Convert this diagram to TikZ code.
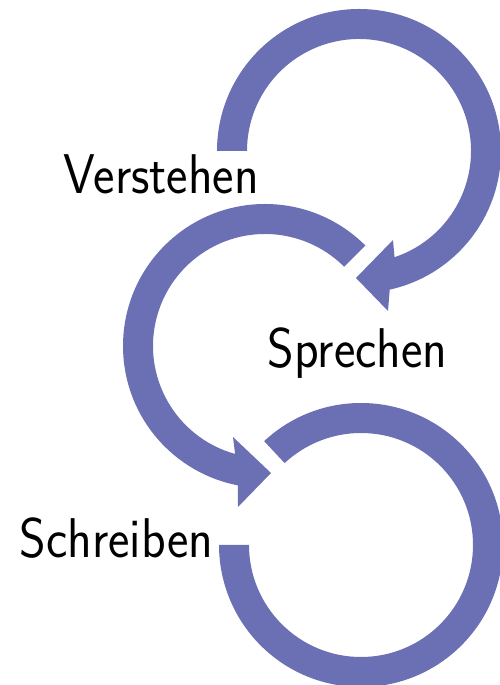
\documentclass[tikz,border=0pt]{standalone}
\usetikzlibrary{calc}
\definecolor{arcblue}{RGB}{107,111,180}
\begin{document}
\begin{tikzpicture}[x=1pt,y=1pt,
  arcband/.style={fill=arcblue,draw=none},
  lbl/.style={font=\sffamily\fontsize{56}{60}\selectfont,inner sep=0pt,anchor=base,xscale=0.91,text=black}]
\useasboundingbox (0,0) rectangle (500,685);
\coordinate (Ct) at (359,534);
\coordinate (Cm) at (265,339);
\coordinate (Cb) at (361,140);
% top arc with arrow
\path[arcband] ($(Ct)+(180:142)$) arc[start angle=180,end angle=-77.5,radius=142]
  -- (388,374) -- (356,407) -- (393,445)
  -- ($(Ct)+(-71.5:112)$) arc[start angle=-71.5,end angle=180,radius=112] -- cycle;
% middle arc with arrow
\path[arcband] ($(Cm)+(45:142)$) arc[start angle=45,end angle=259,radius=142]
  -- (238,178) -- (271,212) -- (233,248)
  -- ($(Cm)+(254.5:112)$) arc[start angle=254.5,end angle=45,radius=112] -- cycle;
% bottom arc
\path[arcband] ($(Cb)+(133:142)$) arc[start angle=133,end angle=-180,radius=142]
  -- ($(Cb)+(-180:112)$) arc[start angle=-180,end angle=133,radius=112] -- cycle;
\node[lbl] (verstehen) at (161,491) {Verstehen};
\node[lbl] (sprechen) at (357.5,317) {Sprechen};
\node[lbl] (schreiben) at (116.5,127) {Schreiben};
\end{tikzpicture}
\end{document}
